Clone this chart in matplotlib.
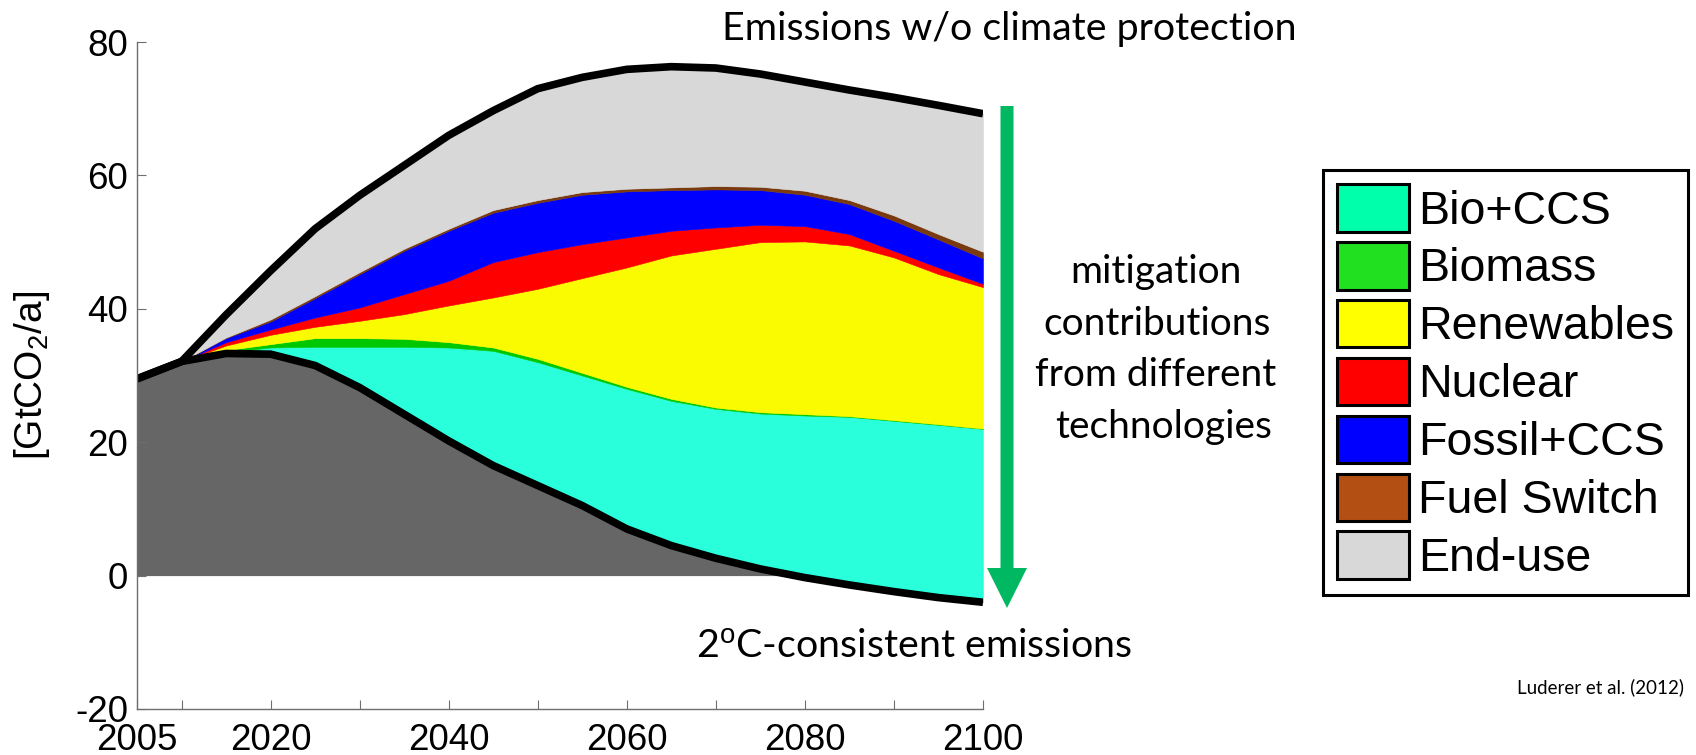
import numpy as np
import matplotlib.pyplot as plt
import matplotlib.patches as mpatches

plt.rcParams['font.family'] = ['Liberation Sans', 'DejaVu Sans']
plt.rcParams['mathtext.fontset'] = 'custom'
plt.rcParams['mathtext.rm'] = 'Liberation Sans'
plt.rcParams['mathtext.it'] = 'Liberation Sans:italic'
plt.rcParams['axes.unicode_minus'] = False

# data (GtCO2/a)
years = np.arange(2005, 2101, 5)
emissions_2c = [29.5, 32.1, 33.3, 33.2, 31.5, 28.2, 24.2, 20.2, 16.5, 13.5,
                10.5, 7.0, 4.5, 2.6, 1.0, -0.3, -1.4, -2.4, -3.3, -4.0]
bio_ccs = [0, 0, 0.2, 1.0, 2.8, 6.1, 10.1, 14.0, 17.2, 18.5,
           19.5, 21.0, 21.7, 22.4, 23.3, 24.3, 25.2, 25.6, 25.9, 26.0]
biomass = [0, 0, 0.3, 0.5, 1.3, 1.3, 1.2, 0.8, 0.5, 0.5,
           0.4, 0.3, 0.3, 0.2, 0.2, 0.2, 0.1, 0.1, 0.1, 0.05]
renewables = [0, 0, 0.7, 1.4, 1.7, 2.6, 3.7, 5.5, 7.5, 10.5,
              14.2, 17.9, 21.5, 23.8, 25.5, 25.9, 25.6, 24.4, 22.5, 21.2]
nuclear = [0, 0, 0.5, 0.8, 1.4, 2.0, 3.0, 3.7, 5.3, 5.5,
           5.1, 4.5, 3.7, 3.2, 2.6, 2.3, 1.7, 1.0, 1.0, 0.5]
fossil_ccs = [0, 0, 0.6, 1.2, 2.9, 5.0, 6.5, 7.5, 7.4, 7.4,
              7.4, 6.9, 6.1, 5.7, 5.2, 4.7, 4.5, 4.5, 4.2, 3.8]
fuel_switch = [0, 0, 0.1, 0.3, 0.3, 0.3, 0.3, 0.3, 0.4, 0.4,
               0.4, 0.4, 0.4, 0.5, 0.5, 0.6, 0.6, 0.8, 0.8, 1.0]
end_use = [0, 0, 3.4, 7.3, 10.1, 11.5, 12.5, 14.0, 14.9, 16.7,
           17.2, 17.9, 18.1, 17.7, 16.9, 16.3, 16.5, 17.7, 19.3, 20.7]

labels = ['Bio+CCS', 'Biomass', 'Renewables', 'Nuclear', 'Fossil+CCS', 'Fuel Switch', 'End-use']
layers = [bio_ccs, biomass, renewables, nuclear, fossil_ccs, fuel_switch, end_use]
fill_colors = ['#2AFFDC', '#00C800', '#FAFA00', '#FF0000', '#0000FF', '#7A3A10', '#D8D8D8']
legend_colors = ['#00FFAA', '#20E020', '#FFFF00', '#FF0000', '#0000FF', '#B44F14', '#D8D8D8']

W, H = 1696, 755
fig = plt.figure(figsize=(W / 100, H / 100), dpi=100)
ax = fig.add_axes([137 / W, 1 - 709 / H, (983 - 137) / W, (709 - 42) / H])

low = np.array(emissions_2c)
ax.fill_between(years, 0, low, where=low > 0, interpolate=True, color='#666666', lw=0)

bottom = low.copy()
for vals, col in zip(layers, fill_colors):
    top = bottom + np.array(vals)
    ax.fill_between(years, bottom, top, facecolor=col, edgecolor=col, lw=0.4)
    bottom = top

ax.plot(years, bottom, color='black', lw=5.5, solid_capstyle='butt')
ax.plot(years, low, color='black', lw=5.5, solid_capstyle='butt')

ax.set_xlim(2005, 2100)
ax.set_ylim(-20, 80)
ax.set_xticks([2005, 2020, 2040, 2060, 2080, 2100])
ax.set_xticks([2010, 2030, 2050, 2070, 2090], minor=True)
ax.set_yticks([-20, 0, 20, 40, 60, 80])
ax.tick_params(which='both', direction='in', length=6.5, width=0.8, color='#6E6E6E')
ax.tick_params(axis='x', labelsize=26.5, pad=10)
ax.tick_params(axis='y', labelsize=26.5, pad=6.5)
for s in ['top', 'right']:
    ax.spines[s].set_visible(False)
for s in ['left', 'bottom']:
    ax.spines[s].set_color('#6E6E6E')
    ax.spines[s].set_linewidth(1.0)
ax.set_ylabel(r'[GtCO$_2$/a]', fontsize=28)
ax.yaxis.set_label_coords(-0.101, 0.5)

# overlay in pixel coordinates for annotations
ov = fig.add_axes([0, 0, 1, 1])
ov.set_xlim(0, W)
ov.set_ylim(H, 0)
ov.axis('off')

ov.add_patch(mpatches.FancyArrow(1007, 106, 0, 502, width=13, head_width=40, head_length=40,
                                 length_includes_head=True, color='#00B862', lw=0))

txt = dict(family=['Lato', 'DejaVu Sans'], color='black')
ov.text(1009, 40, 'Emissions w/o climate protection', fontsize=28.4, ha='center', va='baseline', **txt)
mit_lines = ['mitigation', 'contributions', 'from different', 'technologies']
mit_x = [1156, 1157, 1156, 1164]
for i, (line, x) in enumerate(zip(mit_lines, mit_x)):
    ov.text(x, 283 + i * 51.7, line, fontsize=28, ha='center', va='baseline', **txt)
ov.text(914, 658, r'2$^{\mathrm{o}}$C-consistent emissions', fontsize=28.4, ha='center', va='baseline', **txt)
ov.text(1684, 693, 'Luderer et al. (2012)', fontsize=13.5, ha='right', va='baseline', **txt)

handles = [mpatches.Patch(facecolor=c, edgecolor='black', linewidth=2.2, label=l)
           for c, l in zip(legend_colors, labels)]
leg = fig.legend(handles=handles, loc='upper left', bbox_to_anchor=(1323 / W, 1 - 170 / H),
                 borderaxespad=0, fontsize=33.5, frameon=True, fancybox=False, framealpha=1,
                 edgecolor='black', handlelength=1.55, handleheight=1.2, handletextpad=0.2,
                 labelspacing=0.18, borderpad=0.3)
leg.get_frame().set_linewidth(2.2)

fig.savefig('out.png', dpi=100)
